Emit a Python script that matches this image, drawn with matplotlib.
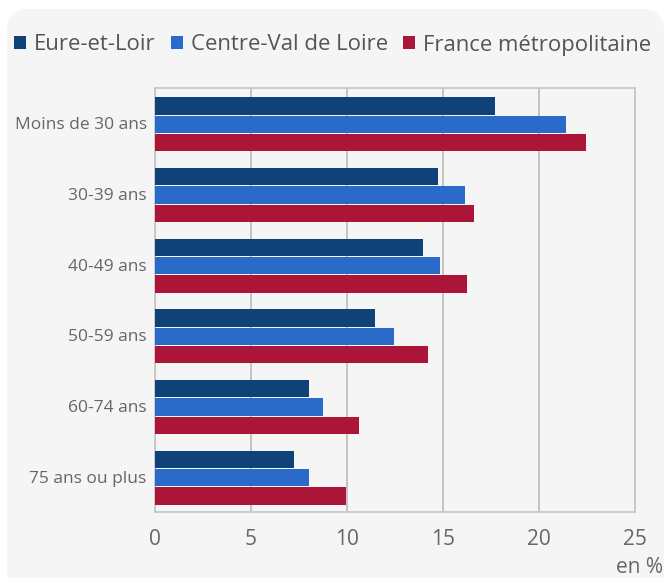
import matplotlib
matplotlib.use("Agg")
import matplotlib.pyplot as plt
import numpy as np
from matplotlib.patches import FancyBboxPatch, Patch

# Données (en %)
categories = ["Moins de 30 ans", "30-39 ans", "40-49 ans", "50-59 ans", "60-74 ans", "75 ans ou plus"]
eure_et_loir = [17.7, 14.75, 13.95, 11.45, 8.0, 7.25]
centre_val_de_loire = [21.4, 16.15, 14.85, 12.45, 8.75, 8.0]
france_metro = [22.45, 16.6, 16.25, 14.2, 10.6, 9.95]
series_names = ["Eure-et-Loir", "Centre-Val de Loire", "France métropolitaine"]
x_ticks = [0, 5, 10, 15, 20, 25]

colors = ["#0f4279", "#2a6bca", "#ab1638"]
bg = "#f5f5f5"
text_color = "#666666"

plt.rcParams["font.family"] = ["Open Sans", "DejaVu Sans"]

fig = plt.figure(figsize=(6.67, 5.78), dpi=100)
fig.patch.set_facecolor("white")

# fond gris arrondi
fond = FancyBboxPatch((0.07, -0.4), 6.57, 6.09, boxstyle="round,pad=0,rounding_size=0.22",
                      transform=fig.dpi_scale_trans, facecolor=bg, edgecolor="none", zorder=-5)
fig.patches.append(fond)

ax = fig.add_axes([0.2324, 0.1142, 0.7196, 0.7336])
ax.set_facecolor(bg)

y = np.arange(len(categories))
offsets = [-0.245, 0.015, 0.275]
hauteur = 0.245
for serie, nom, couleur, dy in zip([eure_et_loir, centre_val_de_loire, france_metro], series_names, colors, offsets):
    ax.barh(y + dy, serie, height=hauteur, color=couleur, label=nom, zorder=3)

ax.set_xlim(0, 25)
ax.set_ylim(len(categories) - 0.5, -0.5)
ax.set_xticks(x_ticks)
ax.set_yticks(y)
ax.set_yticklabels(categories)
ax.xaxis.grid(True, color="#bbbbbb", linewidth=1.2, zorder=1)
ax.tick_params(axis="both", length=0, colors=text_color)
ax.tick_params(axis="x", labelsize=15, pad=12)
ax.tick_params(axis="y", labelsize=12.5, pad=6)
for s in ax.spines.values():
    s.set_color("#c4c4c4")
    s.set_linewidth(1.2)

# Légende
handles = [Patch(facecolor=c, edgecolor="none") for c in colors]
fig.legend(handles, series_names, loc="center left", bbox_to_anchor=(14 / 667, 1 - 45 / 578),
           ncol=3, frameon=False, fontsize=15.9, handlelength=0.55, handleheight=0.55,
           handletextpad=0.36, columnspacing=0.68, borderpad=0, borderaxespad=0,
           labelcolor="#555555")

fig.text(0.994, 5 / 578, "en %", ha="right", va="baseline", fontsize=15, color=text_color)

fig.savefig("out.png", dpi=100, facecolor=fig.get_facecolor())
